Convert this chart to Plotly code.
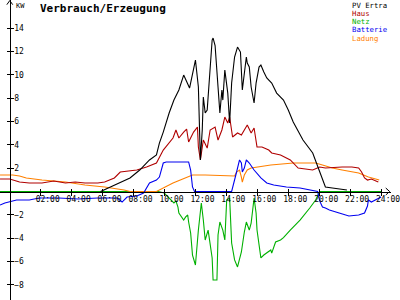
import plotly.graph_objects as go

# ---------------- data (hours, kW) ----------------
pv_t = [5.87, 6.51, 7.14, 7.77, 8.40, 9.03, 9.48, 9.67, 9.92, 10.30, 10.61, 10.93, 11.24, 11.62, 12.00,
        12.19, 12.32, 12.44, 12.51, 12.63, 12.76, 12.95, 13.08, 13.14, 13.27, 13.46, 13.58, 13.71, 13.77,
        13.90, 14.09, 14.21, 14.34, 14.53, 14.72, 14.91, 15.03, 15.29, 15.35, 15.48, 15.60, 15.79, 15.92,
        16.11, 16.23, 16.42, 16.61, 16.93, 17.25, 17.69, 18.00, 18.32, 18.95, 19.58, 19.90, 20.21, 20.40,
        20.85, 21.79]
pv_v = [0.0, 0.39, 0.73, 1.16, 1.84, 2.70, 3.13, 4.15, 5.09, 6.72, 7.83, 8.69, 9.97, 8.86, 11.26,
        8.95, 2.70, 5.27, 8.09, 6.72, 6.98, 10.66, 12.97, 13.14, 12.5, 8.95, 6.72, 8.69, 7.83,
        10.40, 8.43, 5.86, 9.29, 11.52, 12.37, 11.94, 8.69, 11.52, 11.0, 10.66, 8.95, 7.58, 9.29,
        10.66, 10.83, 10.23, 9.72, 9.29, 8.43, 7.83, 6.98, 5.95, 4.41, 3.30, 2.10, 0.98, 0.39,
        0.30, 0.13]

haus_t = [-0.63, 0.0, 0.63, 1.26, 2.08, 2.84, 3.60, 4.23, 4.86, 5.69, 6.13, 6.51, 6.76, 7.14, 7.77,
          8.21, 8.84, 9.48, 9.92, 10.30, 10.55, 10.74, 10.93, 11.24, 11.43, 11.56, 11.88, 12.13, 12.19,
          12.32, 12.51, 12.76, 12.95, 13.27, 13.46, 13.71, 13.90, 14.09, 14.21, 14.40, 14.72, 14.97,
          15.16, 15.35, 15.60, 15.79, 15.98, 16.30, 16.74, 16.93, 17.50, 18.13, 18.64, 19.58, 20.03,
          20.40, 21.48, 22.11, 22.55, 22.74, 22.93, 23.12, 23.37, 23.60, 23.82]
haus_v = [1.07, 1.07, 0.81, 0.73, 0.73, 0.90, 0.73, 0.81, 0.73, 0.73, 0.81, 0.98, 1.16, 1.67, 1.76,
          1.84, 2.10, 2.44, 3.55, 4.15, 4.58, 5.27, 4.58, 5.09, 5.35, 4.24, 5.09, 5.52, 3.81,
          2.70, 4.41, 3.72, 5.27, 5.52, 4.41, 5.27, 6.38, 5.86, 6.38, 4.67, 5.01, 4.84,
          5.27, 5.69, 5.01, 5.44, 3.81, 3.81, 3.55, 3.30, 3.13, 2.70, 2.01, 1.84, 2.10,
          2.01, 2.10, 2.10, 2.01, 1.67, 1.16, 0.98, 1.07, 0.90, 0.81]

netz_t = [-0.63, 9.60, 9.98, 10.11, 10.30, 10.55, 10.61, 10.74, 10.87, 10.93, 11.18, 11.24, 11.37,
          11.50, 11.56, 11.69, 11.81, 11.88, 12.00, 12.19, 12.32, 12.38, 12.51, 12.63, 12.82, 13.08,
          13.14, 13.39, 13.46, 13.58, 13.77, 13.90, 14.02, 14.21, 14.34, 14.53, 14.72, 14.97, 15.16,
          15.29, 15.48, 15.60, 15.79, 15.92, 15.98, 16.23, 16.42, 16.61, 16.87, 16.93, 17.18, 17.50,
          17.69, 18.13, 18.76, 19.39, 19.77, 20.03, 24.0]
netz_v = [0.0, 0.0, -0.13, -0.30, -0.56, -0.90, -0.98, -0.81, -1.33, -1.84, -2.27, -2.44, -2.18,
          -2.01, -2.61, -3.55, -5.44, -5.86, -6.29, -3.30, -1.84, -0.98, -2.44, -4.15, -3.30, -5.69,
          -7.58, -7.58, -3.72, -2.61, -3.30, -4.15, -0.73, -0.56, -4.41, -5.86, -6.46, -5.18, -3.47,
          -2.61, -3.30, -2.70, -0.56, -1.84, -3.30, -5.69, -5.44, -5.27, -5.01, -5.27, -4.32, -4.15,
          -3.95, -3.30, -2.44, -1.41, -0.73, 0.0, 0.0]

batt_t = [-0.63, -0.32, 0.44, 1.26, 1.90, 3.16, 4.42, 5.69, 6.95, 7.26, 7.58, 8.21, 8.65, 9.03, 9.48,
          9.67, 9.92, 10.11, 11.18, 11.56, 11.69, 11.81, 11.94, 14.34, 14.66, 14.85, 14.97, 15.03,
          15.16, 15.29, 15.48, 15.79, 16.23, 16.61, 17.06, 17.88, 18.76, 19.58, 19.90, 20.03, 20.21,
          20.40, 20.66, 21.29, 21.92, 22.55, 22.93, 23.12, 23.18, 23.37, 23.82, 24.0]
batt_v = [-1.16, -0.98, -0.73, -0.73, -0.56, -0.56, -0.64, -0.56, -0.56, -0.90, -0.47, -0.39, -0.13,
          0.73, 0.98, 1.24, 2.44, 2.53, 2.53, 2.53, 1.84, 0.39, 0.0, 0.0, 1.67, 2.70, 2.44, 1.67,
          2.01, 2.70, 2.44, 1.84, 1.16, 0.73, 0.56, 0.39, 0.30, 0.04, 0.0, -0.80, -1.33,
          -1.41, -1.58, -1.84, -2.10, -2.01, -1.84, -1.24, -0.73, -0.90, -0.56, -0.47]

ladung_t = [-0.63, 0.19, 0.63, 1.07, 2.08, 3.60, 4.86, 6.13, 7.39, 7.77, 9.48, 9.67, 10.11, 10.55,
            11.18, 11.81, 12.63, 14.53, 14.66, 14.85, 14.97, 15.03, 15.16, 15.35, 15.60, 15.98, 16.87,
            18.32, 19.77, 20.21, 20.85, 21.48, 22.55, 23.18, 23.88]
ladung_v = [1.41, 1.41, 1.33, 1.16, 0.98, 0.81, 0.56, 0.39, 0.13, 0.0, 0.0, 0.13, 0.39, 0.73,
            1.07, 1.41, 1.41, 1.33, 1.67, 1.84, 1.24, 0.81, 1.41, 1.84, 2.01, 2.10, 2.27,
            2.44, 2.44, 2.27, 2.01, 1.84, 1.58, 1.24, 0.98]

series_names = ["PV Ertra", "Haus", "Netz", "Batterie", "Ladung"]
series_colors = ["#000000", "#b00000", "#00b000", "#0000f0", "#ff8000"]

x_tickvals = [2, 4, 6, 8, 10, 12, 14, 16, 18, 20, 22, 24]
x_ticktext = ["02:00", "04:00", "06:00", "08:00", "10:00", "12:00", "14:00",
              "16:00", "18:00", "20:00", "22:00", "24:00"]
y_tickvals = [-8, -6, -4, -2, 2, 4, 6, 8, 10, 12, 14]

title_text = "Verbrauch/Erzeugung"
unit_text = "KW"

# ---------------- figure ----------------
X_RANGE = [-0.632, 24.64]
Y_RANGE = [-9.29, 16.4]
x_pos = (0 - X_RANGE[0]) / (X_RANGE[1] - X_RANGE[0])
y_pos = (0 - Y_RANGE[0]) / (Y_RANGE[1] - Y_RANGE[0])

fig = go.Figure()
order = [(netz_t, netz_v, 2), (ladung_t, ladung_v, 4), (haus_t, haus_v, 1),
         (batt_t, batt_v, 3), (pv_t, pv_v, 0)]
for t, v, i in order:
    fig.add_trace(go.Scatter(x=t, y=v, mode="lines", name=series_names[i],
                             line=dict(color=series_colors[i], width=1.1),
                             showlegend=False, hoverinfo="skip"))
# helper trace so overlay axes render
fig.add_trace(go.Scatter(x=[None], y=[None], xaxis="x2", yaxis="y2", showlegend=False))

mono = "DejaVu Sans Mono"
axis_common = dict(showgrid=False, zeroline=False, showline=True, linecolor="black",
                   linewidth=1, tickcolor="black", tickwidth=1, ticklen=3)
fig.update_layout(
    width=400, height=300,
    margin=dict(l=0, r=0, t=0, b=0),
    paper_bgcolor="white", plot_bgcolor="white",
    xaxis=dict(range=X_RANGE, anchor="free", position=y_pos, ticks="outside",
               tickmode="array", tickvals=x_tickvals, ticktext=x_ticktext,
               tickfont=dict(family=mono, size=8, color="black"),
               ticklabeloverflow="allow",
               ticklabelshift=7, ticklabelstandoff=-3, **axis_common),
    xaxis2=dict(range=X_RANGE, anchor="free", position=y_pos, overlaying="x", ticks="inside",
                tickmode="array", tickvals=x_tickvals, showticklabels=False, **axis_common),
    yaxis=dict(range=Y_RANGE, anchor="free", position=x_pos, ticks="outside",
               tickmode="array", tickvals=y_tickvals, ticklabelposition="inside",
               ticklabelstandoff=2,
               tickfont=dict(family=mono, size=8, color="black"), **axis_common),
    yaxis2=dict(range=Y_RANGE, anchor="free", position=x_pos, overlaying="y", ticks="inside",
                tickmode="array", tickvals=y_tickvals, showticklabels=False, **axis_common),
)

# axis arrows
fig.add_shape(type="path", xref="x", yref="y",
              path="M -0.19,16.0 L 0,16.35 L 0.19,16.0", line=dict(color="black", width=1))
fig.add_shape(type="path", xref="x", yref="y",
              path="M 24.3,0.3 L 24.55,0 L 24.3,-0.3", line=dict(color="black", width=1))

# title and unit
fig.add_annotation(text=f"<b>{title_text}</b>", xref="paper", yref="paper", x=39/400, y=1.0,
                   xanchor="left", yanchor="top", showarrow=False,
                   font=dict(family=mono, size=11, color="black"))
fig.add_annotation(text=unit_text, xref="paper", yref="paper", x=14/400, y=1.0,
                   xanchor="left", yanchor="top", showarrow=False,
                   font=dict(family=mono, size=7, color="black"))

# text-only legend
for i, (name, col) in enumerate(zip(series_names, series_colors)):
    fig.add_annotation(text=name, xref="paper", yref="paper", x=358/400,
                       y=1 - (5 + i * 8.3) / 300, xanchor="left", yanchor="middle",
                       showarrow=False, font=dict(family=mono, size=7.3, color=col))

fig.write_html("out.html")
